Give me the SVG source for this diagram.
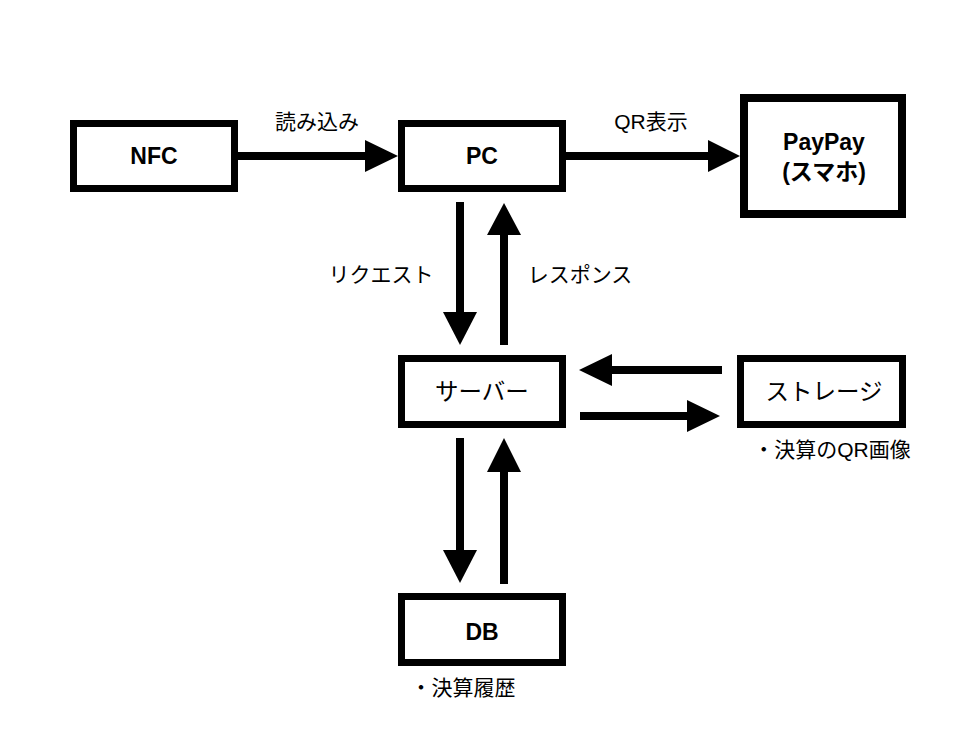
<svg xmlns="http://www.w3.org/2000/svg" width="976" height="756" viewBox="0 0 976 756">
<style>
.box{fill:#fff;stroke:#000;stroke-width:7}
.t{font-family:"Liberation Sans","Noto Sans CJK JP",sans-serif;fill:#000;text-anchor:middle}
.b{font-weight:bold;font-size:23px}
.n{font-size:23.5px}
.l{font-size:21px}
.ln{stroke:#000;stroke-width:8;fill:none}
.hd{fill:#000}
</style>
<rect width="976" height="756" fill="#fff"/>
<g id="connectors">
  <line class="ln" x1="238" y1="156" x2="366" y2="156"/>
  <polygon class="hd" points="365,140 398,156 365,172"/>
  <line class="ln" x1="566" y1="156" x2="709" y2="156"/>
  <polygon class="hd" points="708,140 740,156 708,172"/>
  <line class="ln" x1="460" y1="202" x2="460" y2="313"/>
  <polygon class="hd" points="443,312 477,312 460,345"/>
  <line class="ln" x1="504" y1="234" x2="504" y2="345"/>
  <polygon class="hd" points="487,235 521,235 504,203"/>
  <line class="ln" x1="611" y1="370" x2="722" y2="370"/>
  <polygon class="hd" points="612,354 612,386 579,370"/>
  <line class="ln" x1="580" y1="416" x2="688" y2="416"/>
  <polygon class="hd" points="687,400 687,432 720,416"/>
  <line class="ln" x1="460" y1="438" x2="460" y2="551"/>
  <polygon class="hd" points="443,550 477,550 460,583"/>
  <line class="ln" x1="504" y1="471" x2="504" y2="584"/>
  <polygon class="hd" points="487,472 521,472 504,438"/>
  <text class="t l" x="317" y="129">読み込み</text>
  <text class="t l" x="651" y="129">QR表示</text>
  <text class="t l" x="381" y="282">リクエスト</text>
  <text class="t l" x="580" y="282">レスポンス</text>
</g>
<g id="nfc">
  <rect class="box" x="73.5" y="123.5" width="161" height="65"/>
  <text class="t b" x="154" y="164">NFC</text>
</g>
<g id="pc">
  <rect class="box" x="401.5" y="123.5" width="161" height="65"/>
  <text class="t b" x="482" y="164">PC</text>
</g>
<g id="paypay">
  <rect class="box" x="744" y="98" width="158" height="116" style="stroke-width:8"/>
  <text class="t b" x="824" y="150">PayPay</text>
  <text class="t b" x="824" y="180">(スマホ)</text>
</g>
<g id="server">
  <rect class="box" x="401.5" y="358.5" width="161" height="66"/>
  <text class="t n" x="482" y="400">サーバー</text>
</g>
<g id="storage">
  <rect class="box" x="740.5" y="358.5" width="162" height="66"/>
  <text class="t n" x="824" y="400">ストレージ</text>
  <text class="t l" x="832" y="457">・決算のQR画像</text>
</g>
<g id="db">
  <rect class="box" x="401.5" y="596.5" width="161" height="66"/>
  <text class="t b" x="482" y="640">DB</text>
  <text class="t l" x="463" y="695">・決算履歴</text>
</g>
</svg>
